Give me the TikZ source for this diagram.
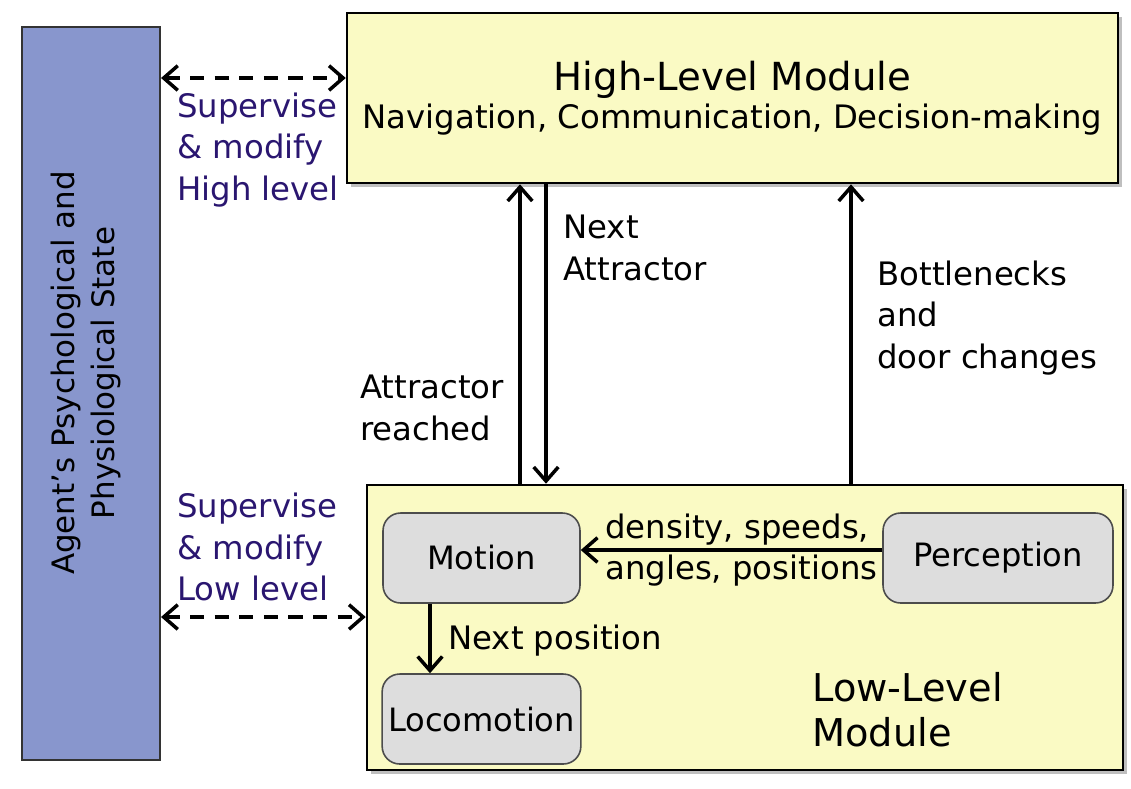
\documentclass[tikz,border=0pt]{standalone}
\usepackage{fontspec}
\setmainfont{DejaVu Sans}
\usetikzlibrary{arrows.meta,shadows}
\definecolor{agentblue}{RGB}{136,150,205}
\definecolor{moduleyellow}{RGB}{250,250,196}
\definecolor{subgray}{RGB}{221,221,221}
\definecolor{supertext}{RGB}{42,22,112}
\begin{document}
\begin{tikzpicture}[x=0.02cm,y=-0.02cm,
  module/.style={draw=black,line width=1.5pt,fill=moduleyellow,inner sep=0pt,
    drop shadow={shadow xshift=2.5pt,shadow yshift=-2.5pt,fill=black!50}},
  submodule/.style={draw=black!70,line width=0.9pt,fill=subgray,rounded corners=10pt,
    minimum width=3.94cm,minimum height=1.8cm,font=\fontsize{18.3}{22}\selectfont},
  flow/.style={line width=2pt,-{Straight Barb[length=8pt,width=14pt]}},
  supervise/.style={line width=2pt,dash pattern=on 8pt off 6pt,
    {Straight Barb[length=8pt,width=14pt]}-{Straight Barb[length=8pt,width=14pt]}},
  lbl/.style={align=left,inner sep=0pt,font=\fontsize{18.4}{23.5}\selectfont},
  suplbl/.style={lbl,text=supertext}]
\useasboundingbox (0,0) rectangle (1131,788);
\node[draw=black!80,line width=1.2pt,fill=agentblue,minimum width=2.76cm,minimum height=14.66cm] (agent) at (91,393.5) {};
\node[lbl,align=center,rotate=90,font=\fontsize{17.6}{22.5}\selectfont] (agenttext) at (86,373) {Agent's Psychological and\\Physiological State};
\node[module,minimum width=15.42cm,minimum height=3.4cm,align=center] (high) at (732.5,98)
  {\fontsize{22}{24}\selectfont High-Level Module\\[2pt]\fontsize{18.4}{22}\selectfont Navigation, Communication, Decision-making};
\node[module,minimum width=15.12cm,minimum height=5.7cm] (low) at (745,627.5) {};
\node[submodule] (motion) at (481.5,558) {Motion};
\node[submodule] (locomotion) at (481.5,719) {Locomotion};
\node[submodule,minimum width=4.6cm] (perception) at (998,558) {Perception};
\node[lbl,anchor=west,font=\fontsize{21.8}{25.5}\selectfont] (lowtitle) at (812,710) {Low-Level\\Module};
\node[suplbl,anchor=west] (suphigh) at (177,150) {Supervise\\\& modify\\High level};
\node[suplbl,anchor=west] (suplow) at (177,547) {Supervise\\\& modify\\Low level};
\node[lbl,anchor=west] (nextattr) at (563,248) {Next\\Attractor};
\node[lbl,anchor=west] (reached) at (360,408) {Attractor\\reached};
\node[lbl,anchor=west] (bottle) at (877,318) {Bottlenecks\\and\\door changes};
\node[lbl,anchor=west] (percinfo) at (605,550) {density, speeds,\\angles, positions};
\node[lbl,anchor=west] (nextpos) at (448,641) {Next position};
\coordinate (upx) at (520,0);
\coordinate (downx) at (546,0);
\coordinate (bneckx) at (851,0);
\coordinate (stepx) at (430,0);
\coordinate (infoy) at (0,550);
\coordinate (topy) at (0,78);
\coordinate (lowy) at (0,617);
\draw[flow] (low.north -| upx) -- (high.south -| upx);
\draw[flow] (high.south -| downx) -- (low.north -| downx);
\draw[flow] (low.north -| bneckx) -- (high.south -| bneckx);
\draw[flow] (perception.west |- infoy) -- (motion.east |- infoy);
\draw[flow] (motion.south -| stepx) -- (locomotion.north -| stepx);
\draw[supervise] (agent.east |- topy) -- (high.west |- topy);
\draw[supervise] (agent.east |- lowy) -- (low.west |- lowy);
\end{tikzpicture}
\end{document}
